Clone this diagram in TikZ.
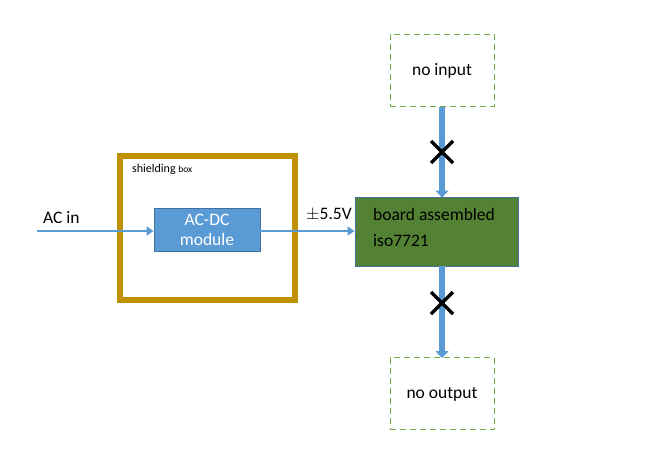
\documentclass[tikz,border=0pt]{standalone}
\usepackage{fontspec}
\setmainfont{Carlito}
\usetikzlibrary{arrows.meta}
\definecolor{accblue}{HTML}{5B9BD5}
\definecolor{edgeblue}{HTML}{41719C}
\definecolor{gold}{HTML}{BF9000}
\definecolor{boardgreen}{HTML}{548235}
\definecolor{dashgreen}{HTML}{70AD47}
\tikzset{
  txt/.style={inner sep=0pt, font=\fontsize{17.5}{21}\selectfont},
  thinarrow/.style={draw=accblue, line width=2.6pt, -{Triangle[length=7pt,width=9pt]}},
  blockarrow/.style={draw=accblue, line width=6pt, -{Triangle[length=7pt,width=13pt]}, shorten >=-1pt},
  dashbox/.style={draw=dashgreen, dash pattern=on 6pt off 4pt, line width=1pt, minimum width=104pt, minimum height=72pt, inner sep=0pt},
  crossline/.style={draw=black, line width=3.3pt}
}
\begin{document}
\begin{tikzpicture}[x=1pt,y=-1pt]
\useasboundingbox[fill=white] (0,0) rectangle (646,461);
% shielding box
\node[draw=gold, line width=6pt, minimum width=175pt, minimum height=144pt, inner sep=0pt] (shield) at (207.5,228) {};
\node[inner sep=0pt, anchor=west] (shieldlbl) at (132,169) {\fontsize{12}{14}\selectfont shielding {\fontsize{9.5}{11}\selectfont box}};
% AC-DC module
\node[draw=edgeblue, fill=accblue, line width=0.8pt, minimum width=106pt, minimum height=43pt, inner sep=0pt, align=center, text=white, font=\fontsize{17.5}{20}\selectfont] (mod) at (207,229.5) {AC-DC\\module};
% board
\node[draw=edgeblue, fill=boardgreen, line width=0.8pt, minimum width=163pt, minimum height=69pt, inner sep=0pt] (board) at (436.5,231.5) {};
\node[txt, anchor=west] (b1) at (373,214) {board assembled};
\node[txt, anchor=west] (b2) at (373,241) {iso7721};
% dashed boxes
\node[dashbox] (nin) at (442,70) {};
\node[txt] (ninl) at (442,71) {no input};
\node[dashbox] (nout) at (442,393.5) {};
\node[txt] (noutl) at (442,394) {no output};
% AC in
\coordinate (acstart) at (37,231);
\node[txt, anchor=west] (acl) at (43,218) {AC in};
\draw[thinarrow] (acstart) -- (mod.west |- acstart);
% module to board
\draw[thinarrow] (mod.east |- acstart) -- (board.west |- acstart);
\node[txt] (volt) at (329,215) {$\pm$5.5V};
% vertical block arrows
\draw[blockarrow] (nin.south) -- (board.north -| nin.south);
\draw[blockarrow] (board.south -| nout.north) -- (nout.north);
% crosses
\coordinate (c1) at (442,152);
\coordinate (c2) at (442,303);
\foreach \c in {c1,c2}{
  \draw[crossline] ([shift={(-11,-11)}]\c) -- ([shift={(11,11)}]\c);
  \draw[crossline] ([shift={(-11,11)}]\c) -- ([shift={(11,-11)}]\c);
}
\end{tikzpicture}
\end{document}
